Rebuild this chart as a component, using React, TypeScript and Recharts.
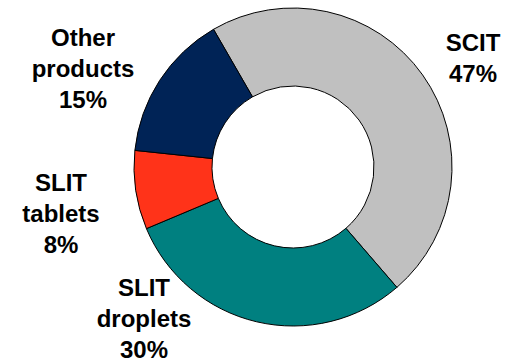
import { PieChart, Pie, Cell } from "recharts";

const categories = ["SCIT", "SLIT droplets", "SLIT tablets", "Other products"];
const shares = [47, 30, 8, 15];
const labelLines = [["SCIT", "47%"], ["SLIT", "droplets", "30%"], ["SLIT", "tablets", "8%"], ["Other", "products", "15%"]];

const COLORS = ["#C0C0C0", "#008080", "#FF3319", "#002356"];
// label block centre, relative to pie centre
const LABEL_OFFSETS = [
  { dx: 180, dy: -110 },
  { dx: -149, dy: 151 },
  { dx: -232, dy: 46 },
  { dx: -210, dy: -99 },
];
const LINE_HEIGHT = 31;

const data = categories.map((name, i) => ({ name, value: shares[i] }));

type LabelProps = { cx: number; cy: number; index: number };

function renderLabel({ cx, cy, index }: LabelProps) {
  const lines = labelLines[index];
  const off = LABEL_OFFSETS[index];
  const x = cx + off.dx;
  const y0 = cy + off.dy - ((lines.length - 1) * LINE_HEIGHT) / 2;
  return (
    <text
      key={`label-${index}`}
      x={x}
      y={y0}
      textAnchor="middle"
      dominantBaseline="central"
      fontFamily="'Liberation Sans', Arial, sans-serif"
      fontWeight="bold"
      fontSize={24}
      fill="#000"
    >
      {lines.map((line, i) => (
        <tspan key={i} x={x} y={y0 + i * LINE_HEIGHT}>
          {line}
        </tspan>
      ))}
    </text>
  );
}

export default function App() {
  return (
    <div style={{ position: "absolute", left: 0, top: 0, width: 506, height: 363, background: "#fff" }}>
      <PieChart width={506} height={363} margin={{ top: 0, right: 0, bottom: 0, left: 0 }}>
        <Pie
          data={data}
          dataKey="value"
          nameKey="name"
          cx={293}
          cy={167}
          innerRadius={81}
          outerRadius={159}
          startAngle={120}
          endAngle={-240}
          stroke="#000"
          strokeWidth={1}
          label={renderLabel}
          labelLine={false}
          isAnimationActive={false}
        >
          {data.map((entry, index) => (
            <Cell key={`cell-${index}`} fill={COLORS[index]} />
          ))}
        </Pie>
      </PieChart>
    </div>
  );
}
